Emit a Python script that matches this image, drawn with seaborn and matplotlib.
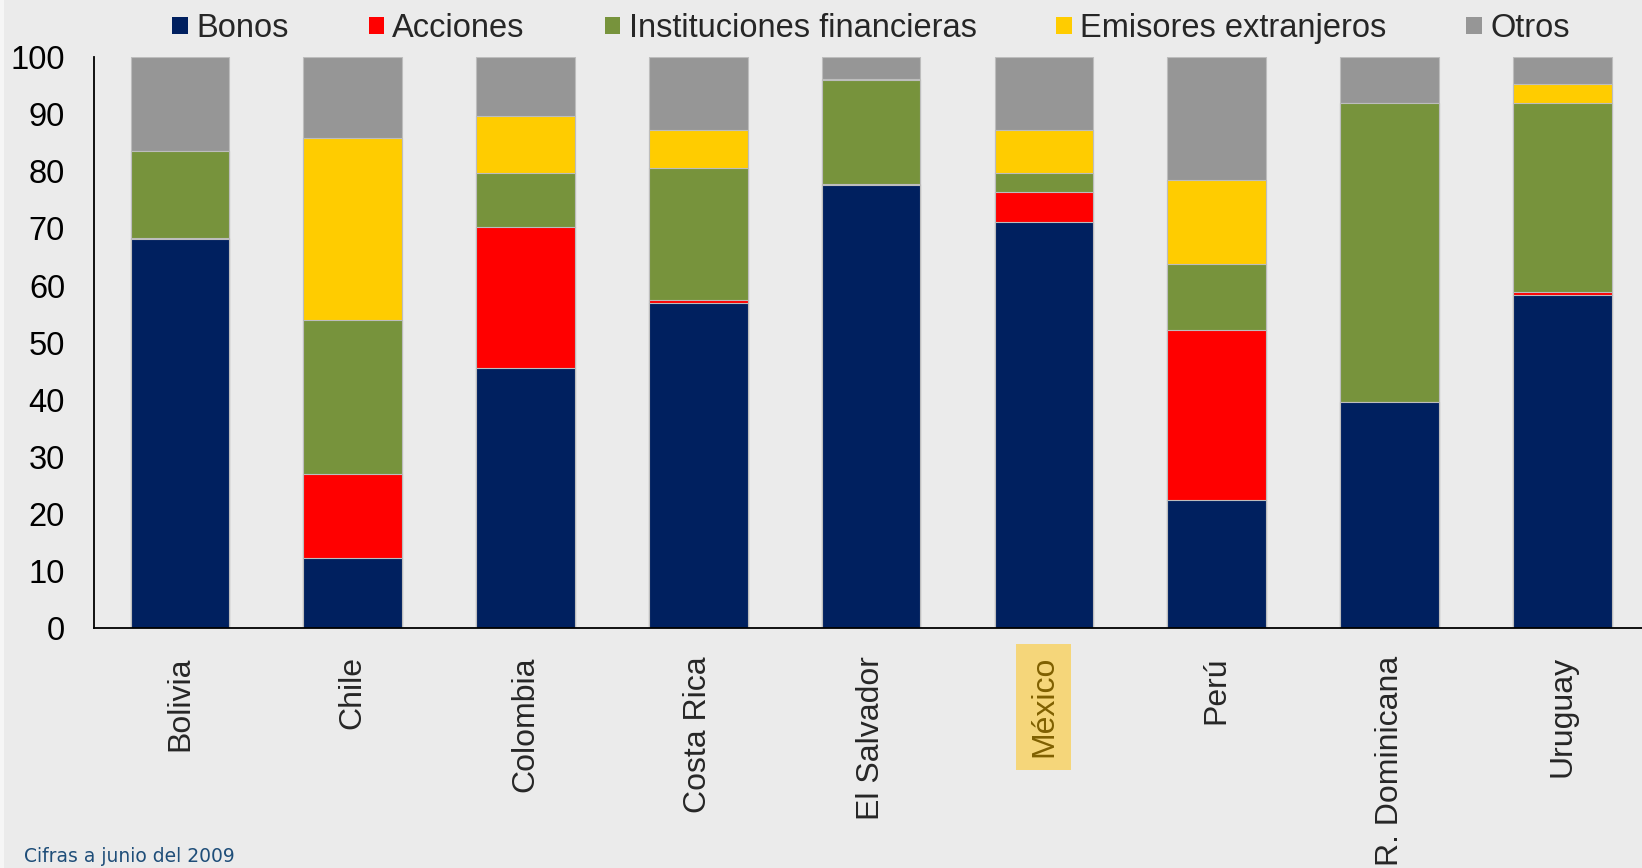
import matplotlib
matplotlib.use("Agg")
import matplotlib.pyplot as plt
from matplotlib.patches import Patch, Rectangle
import numpy as np
import pandas as pd
import seaborn as sns

countries = ["Bolivia", "Chile", "Colombia", "Costa Rica", "El Salvador",
             "México", "Perú", "R. Dominicana", "Uruguay"]
bonos = [68.2, 12.3, 45.5, 57.0, 77.6, 71.1, 22.4, 39.6, 58.4]
acciones = [0.2, 14.7, 24.8, 0.5, 0.2, 5.2, 29.9, 0.0, 0.4]
instituciones = [15.2, 27.0, 9.4, 23.0, 18.1, 3.4, 11.4, 52.4, 33.1]
emisores = [0.0, 31.8, 9.9, 6.8, 0.3, 7.5, 14.7, 0.0, 3.3]
otros = [16.4, 14.2, 10.4, 12.7, 3.8, 12.8, 21.6, 8.0, 4.8]

series_names = ["Bonos", "Acciones", "Instituciones financieras",
                "Emisores extranjeros", "Otros"]
series_values = [bonos, acciones, instituciones, emisores, otros]
colors = ["#00205F", "#FF0000", "#77933C", "#FFCC00", "#969696"]
yticks = list(range(0, 101, 10))
footer = "Cifras a junio del 2009"
highlight = "México"

sns.set_style("white")
bg = "#EBEBEB"
plt.rcParams["font.family"] = ["Liberation Sans", "DejaVu Sans"]

fig = plt.figure(figsize=(16.42, 8.68), dpi=100, facecolor=bg)
W, H = 1642, 868
ax_left, ax_right = 93.5, 93.5 + 9 * 172.8
ax_top, ax_bot = 57.0, 628.3
ax = fig.add_axes([ax_left / W, 1 - ax_bot / H, (ax_right - ax_left) / W, (ax_bot - ax_top) / H])
ax.set_facecolor(bg)

# stacked bars drawn as cumulative totals, top series first
df = pd.DataFrame({"country": countries})
cum = np.zeros(len(countries))
cums = []
for vals in series_values:
    cum = cum + np.array(vals)
    cums.append(cum.copy())
for i in reversed(range(len(series_values))):
    df["v"] = cums[i]
    sns.barplot(data=df, x="country", y="v", color=colors[i], saturation=1,
                width=0.57, errorbar=None, edgecolor="#BDBDBD", linewidth=0.8,
                ax=ax, order=countries)

ax.set_xlim(-0.5, len(countries) - 0.5)
ax.set_ylim(0, 100)
ax.set_xlabel("")
ax.set_ylabel("")

for s in ["top", "right"]:
    ax.spines[s].set_visible(False)
for s in ["left", "bottom"]:
    ax.spines[s].set_color("black")
    ax.spines[s].set_linewidth(1.3)

ax.set_yticks(yticks)
ax.set_yticklabels([str(t) for t in yticks], fontsize=23.5)
ax.tick_params(axis="y", direction="out", length=7.5, width=1.2, pad=13, colors="black")

ax.set_xticks(np.arange(-0.5, len(countries)), labels=[""] * (len(countries) + 1))
ax.tick_params(axis="x", which="major", direction="out", length=7, width=1.3, color="black")
ax.set_xticks(np.arange(len(countries)), minor=True)
ax.set_xticklabels(countries, minor=True, rotation=90, fontsize=23)
ax.tick_params(axis="x", which="minor", length=0, pad=20)

for lab in ax.get_xticklabels(minor=True):
    if lab.get_text() == highlight:
        lab.set_color("#7F6000")
        lab.set_bbox(dict(facecolor="#F5D67A", edgecolor="none", pad=9))

handles = [Patch(facecolor=c, edgecolor="none") for c in colors]
leg = ax.legend(handles, series_names, loc="center", ncol=5,
                bbox_to_anchor=(0.5, 1 + (57 - 28.5) / (ax_bot - ax_top)),
                frameon=False, fontsize=23.5, handlelength=0.47, handleheight=0.4,
                handletextpad=0.26, columnspacing=2.45, borderaxespad=0)

fig.text(24 / W, 1 - 862 / H, footer, fontsize=13.5, color="#1F4E79",
         family=["DejaVu Sans"], ha="left", va="baseline")

fig.patches.append(Rectangle((0, 0), 4 / W, 1, transform=fig.transFigure,
                             facecolor="#F6F6F6", edgecolor="none", zorder=-1))

fig.savefig("out.png", dpi=100, facecolor=bg)
